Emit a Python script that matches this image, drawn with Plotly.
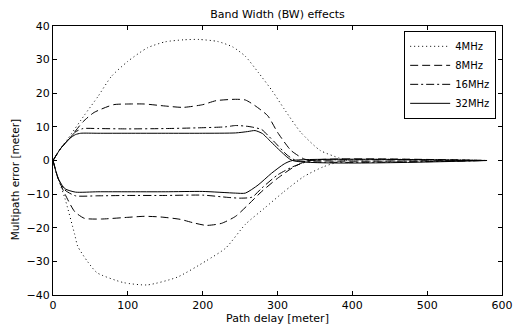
import plotly.graph_objects as go

# ---- data ----
x_4_up = [0, 10, 20, 42, 60, 78, 100, 126, 150, 175, 195, 220, 240, 257, 275, 293, 309, 331, 357, 383, 395, 580]
y_4_up = [0, 3.5, 6.5, 13.5, 19, 25, 29.5, 33.5, 35.3, 35.9, 36, 35.4, 33.8, 31, 26, 20.7, 15.3, 8.4, 3, 0.7, 0, 0]
x_4_lo = [0, 7, 16, 29, 33, 46, 59, 94, 126, 166, 205, 231, 257, 283, 309, 335, 361, 390, 580]
y_4_lo = [0, -5.4, -11.3, -22, -25.5, -30, -33.4, -36.3, -37, -34.7, -29.8, -26, -19, -14.1, -9.2, -4.8, -1.9, 0, 0]

x_8_up = [0, 10, 22, 40, 55, 81, 100, 122, 150, 174, 200, 218, 244, 257, 270, 287, 300, 318, 335, 345, 580]
y_8_up = [0, 3.5, 6.5, 11.5, 14.3, 16.6, 16.8, 16.8, 16.2, 15.8, 16.6, 17.8, 18.2, 18.0, 16.3, 13.3, 8.4, 3, 0.5, 0, 0]
x_8_lo = [0, 7, 16, 29, 42, 65, 100, 122, 144, 170, 187, 205, 225, 244, 261, 279, 300, 322, 342, 580]
y_8_lo = [0, -5.4, -10, -15.2, -17.2, -17.4, -16.9, -16.6, -16.8, -17.5, -18.5, -19.3, -18.7, -16.6, -13.1, -9.2, -5.3, -1.9, 0, 0]

x_16_up = [0, 10, 22, 30, 40, 60, 100, 150, 192, 230, 244, 262, 279, 287, 296, 313, 325, 580]
y_16_up = [0, 3.5, 6.5, 8.5, 9.5, 9.5, 9.4, 9.5, 9.7, 10.0, 10.4, 10.1, 9.2, 7.5, 5.5, 1.6, 0, 0]
x_16_lo = [0, 7, 16, 30, 60, 100, 150, 200, 235, 250, 266, 279, 300, 320, 337, 345, 580]
y_16_lo = [0, -5.4, -8.8, -10.5, -10.5, -10.4, -10.4, -10.3, -11.0, -11.2, -10.9, -8.2, -4.3, -1.9, -0.5, 0, 0]

x_32_up = [0, 10, 22, 30, 37, 60, 100, 150, 200, 244, 260, 270, 280, 287, 305, 320, 580]
y_32_up = [0, 3.5, 6.5, 7.7, 8.1, 8.1, 8.1, 8.1, 8.1, 8.2, 8.6, 8.9, 8.0, 6.5, 2.6, 0, 0]
x_32_lo = [0, 7, 16, 30, 60, 100, 150, 200, 244, 257, 274, 292, 309, 320, 580]
y_32_lo = [0, -5.4, -8.4, -9.4, -9.3, -9.3, -9.3, -9.2, -9.7, -9.7, -7.3, -3.8, -1, 0, 0]

names = ["4MHz", "8MHz", "16MHz", "32MHz"]
dashes = ["1px,3px", "8px,4px", "8px,3px,2px,3px", "solid"]
series = [(x_4_up, y_4_up, x_4_lo, y_4_lo),
          (x_8_up, y_8_up, x_8_lo, y_8_lo),
          (x_16_up, y_16_up, x_16_lo, y_16_lo),
          (x_32_up, y_32_up, x_32_lo, y_32_lo)]

x_ticks = [0, 100, 200, 300, 400, 500, 600]
y_ticks = [-40, -30, -20, -10, 0, 10, 20, 30, 40]

FAM = "DejaVu Sans, Liberation Sans, sans-serif"

fig = go.Figure()
for name, dash, (xu, yu, xl, yl) in zip(names, dashes, series):
    fig.add_trace(go.Scatter(
        x=xu + [None] + xl, y=yu + [None] + yl, name=name, mode="lines",
        line=dict(color="black", width=1, dash=dash, shape="spline", smoothing=0.6),
        connectgaps=False))

font = dict(family=FAM, size=11, color="black")
axis_common = dict(showline=True, linecolor="black", linewidth=1, mirror="ticks",
                   ticks="inside", ticklen=4, tickcolor="black", showgrid=False,
                   zeroline=False, tickfont=font)

fig.update_layout(
    width=523, height=331,
    margin=dict(l=53, r=10, t=26, b=33),
    paper_bgcolor="white", plot_bgcolor="white",
    font=font,
    title=dict(text="Band Width (BW) effects", xref="paper", x=0.5, xanchor="center",
               y=1 - 14 / 331, yanchor="middle", font=font),
    xaxis=dict(range=[0, 600], tickvals=x_ticks,
               title=dict(text="Path delay [meter]", font=font, standoff=1), **axis_common),
    yaxis=dict(range=[-40, 40], tickvals=y_ticks, **axis_common),
    legend=dict(x=0.987, y=0.982, xanchor="right", yanchor="top",
                bordercolor="black", borderwidth=1, bgcolor="white",
                font=dict(family=FAM, size=10, color="black"),
                tracegroupgap=0, itemwidth=40),
    showlegend=True,
    annotations=[dict(text="Multipath error [meter]", xref="paper", yref="paper",
                      x=-39 / 460, y=(298 - 181) / 272, xanchor="center", yanchor="middle",
                      textangle=-90, showarrow=False,
                      font=dict(family=FAM, size=10.5, color="black"))],
)

fig.write_html("out.html")
